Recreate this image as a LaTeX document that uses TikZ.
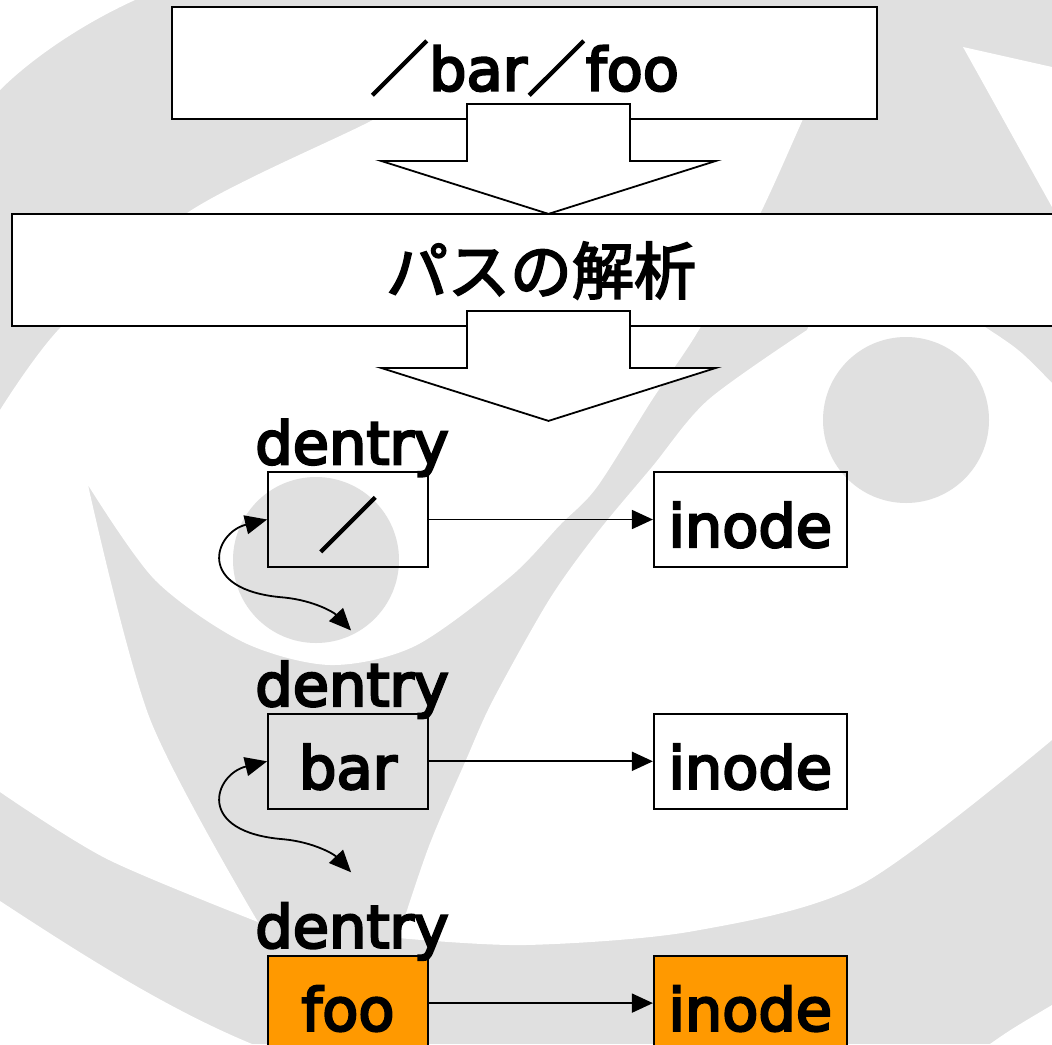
\documentclass[tikz,border=0pt]{standalone}
\usepackage{fontspec}
\setmainfont{DejaVu Sans}[BoldFont={DejaVu Sans}, BoldFeatures={FakeBold=4}]
\newfontfamily\jpfont{Noto Sans CJK JP}[BoldFont={Noto Sans CJK JP}, BoldFeatures={FakeBold=3}]
\usepackage{tikz}
\usetikzlibrary{arrows.meta,positioning,calc}
\definecolor{logogray}{RGB}{224,224,224}
\definecolor{hilite}{RGB}{255,153,0}

\begin{document}
\begin{tikzpicture}[x=1pt, y=-1pt, line width=1.8pt,
  every node/.style={font=\fontsize{59}{60}\selectfont\bfseries, inner sep=0pt},
  banner/.style={draw, fill=white, minimum height=112pt, text height=55pt, text depth=0pt},
  entry/.style={draw, minimum width=160pt, minimum height=95pt, text height=55pt, text depth=0pt},
  inode/.style={entry, minimum width=193pt},
  tag/.style={anchor=base},
  link/.style={line width=1.8pt, -{Triangle[length=21pt,width=19pt]}},
  swing/.style={line width=1.8pt, {Triangle[length=22pt,width=19pt]}-{Triangle[length=22pt,width=19pt]}},
  fat/.style={draw, fill=white}]
   \useasboundingbox (0,0) rectangle (1052,1044);
   \clip (0,0) rectangle (1052,1044);
   \begin{scope}
    \fill[logogray] (0,0) rectangle (1052,1044);
    \fill[white] (0,0) -- (135,0) .. controls (80,25) and (30,60) .. (0,90) -- cycle;
    \fill[white] plot[smooth] coordinates {(0,410) (60,328) (187,213) (367,123) (470,70)} -- (560,40) -- (820,40)
      -- plot[smooth] coordinates {(830,60) (803,119) (760,214) (700,328) (652,400) (597,487) (560,525) (510,577) (415,646) (330,665) (243,642) (155,580) (88,485)}
      -- plot[smooth] coordinates {(88,485) (150,719) (258,922)}
      -- plot[smooth] coordinates {(258,922) (107,859) (0,792)} -- cycle;
    \fill[white] (985,300) -- (820,300)
      -- plot[smooth] coordinates {(807,330) (708,400) (652,467) (597,533) (549,600) (493,700) (466,760) (429,846) (398,938)}
      -- plot[smooth] coordinates {(398,938) (526,945) (694,931) (862,884) (1052,740)}
      -- (1052,383) .. controls (1020,350) .. (985,327) -- cycle;
    \fill[white] (963,47) -- (1052,67) -- (1052,207) -- cycle;
    \fill[white] (0,901) .. controls (90,960) and (170,1010) .. (252,1044) -- (0,1044) -- cycle;
    \fill[white] (990,1044) .. controls (1010,1030) .. (1052,1005) -- (1052,1044) -- cycle;
    \fill[logogray] (316,560) circle[radius=83pt];
    \fill[logogray] (906,420) circle[radius=83pt];
   \end{scope}

   \node[banner, minimum width=705pt] (path) at (524.5,63) {{\jpfont ／}bar{\jpfont ／}foo};
   \node[banner, minimum width=1058pt, text height=48pt, font=\jpfont\fontsize{62}{64}\selectfont\bfseries] (parse) at (541,270) {パスの解析};
   \foreach \b in {path,parse}
    \draw[fat] ($(path.south |- \b.south)+(-57.5,-16)$) -- ++(163,0) -- ++(0,57) -- ++(86,0)
      -- ++(-167.5,53) -- ++(-167.5,-53) -- ++(86,0) -- cycle;

   \node[entry] (d1) at (348,519.5) {{\jpfont ／}};
   \node[entry] (d2) [below=145pt of d1] {bar};
   \node[entry, fill=hilite] (d3) [below=145pt of d2] {foo};
   \node[inode] (i1) [right=224pt of d1] {inode};
   \node[inode] (i2) [right=224pt of d2] {inode};
   \node[inode, fill=hilite] (i3) [right=224pt of d3] {inode};
   \foreach \n in {1,2,3} {
    \node[tag] (t\n) at ($(d\n.north)+(4,-7)$) {dentry};
    \draw[link] (d\n) -- (i\n);
   }
   \foreach \n in {1,2} {
    \coordinate (m\n) at ($(d\n.west)+(17,78)$);
    \coordinate (s\n) at ($(d\n.west)+(84,111)$);
    \draw[swing] (d\n.west) .. controls +(-53,13) and +(-90,-7) .. (m\n)
      .. controls +(30,3) and +(-17,-18) .. (s\n);
   }
\end{tikzpicture}
\end{document}
